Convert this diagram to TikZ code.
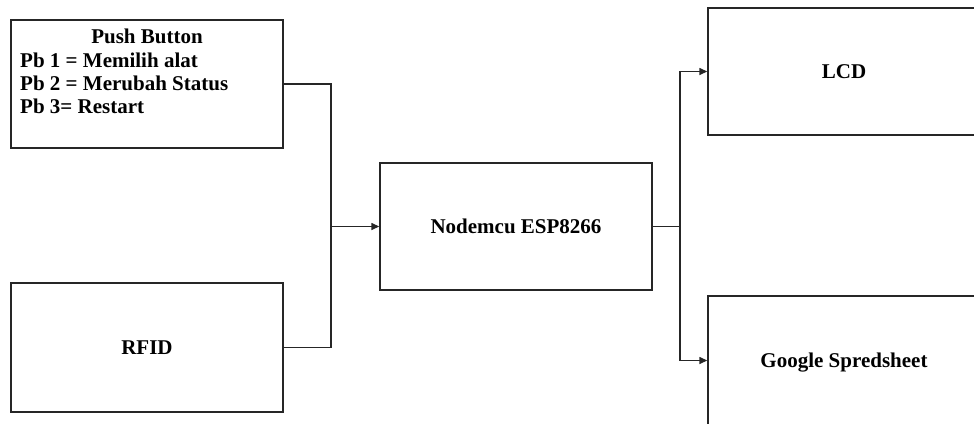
\documentclass[tikz,border=0pt]{standalone}
\usepackage{fontspec}
\setmainfont{Liberation Serif}
\usetikzlibrary{arrows.meta}
\begin{document}
\begin{tikzpicture}[x=1pt,y=-1pt,
  box/.style={draw=black!85, line width=1.4pt, minimum width=272pt, inner sep=0pt,
    font=\fontsize{21}{24}\selectfont\bfseries, text height=14pt, text depth=0pt},
  txt/.style={font=\fontsize{21}{24}\selectfont\bfseries, inner sep=0pt},
  wire/.style={draw=black!85, line width=1.4pt},
  arr/.style={wire, -{Triangle[length=8pt,width=7pt]}}]
\useasboundingbox (0,0) rectangle (974,423);
\clip (0,0) rectangle (974,423);
\node[box, minimum height=128pt] (pb) at (147,84) {};
\node[txt, anchor=base] (pbt) at (147,43) {Push Button};
\node[txt, anchor=base west] (pb1) at (20,67) {Pb 1 = Memilih alat};
\node[txt, anchor=base west] (pb2) at (20,90) {Pb 2 = Merubah Status};
\node[txt, anchor=base west] (pb3) at (20,113) {Pb 3= Restart};
\node[box, minimum height=129pt] (rfid) at (147,347.5) {RFID};
\node[box, minimum height=127pt] (esp) at (516,226.5) {Nodemcu ESP8266};
\node[box, minimum height=127pt] (lcd) at (844,71.5) {LCD};
\node[box, minimum height=129pt] (gs) at (844,360.5) {Google Spredsheet};
\coordinate (j) at (331,226.5);
\coordinate (k) at (680,226.5);
\draw[wire] (pb.east) -| (j);
\draw[wire] (rfid.east) -| (j);
\draw[arr] (j) -- (esp.west);
\draw[wire] (esp.east) -- (k);
\draw[arr] (k) |- (lcd.west);
\draw[arr] (k) |- (gs.west);
\end{tikzpicture}
\end{document}
